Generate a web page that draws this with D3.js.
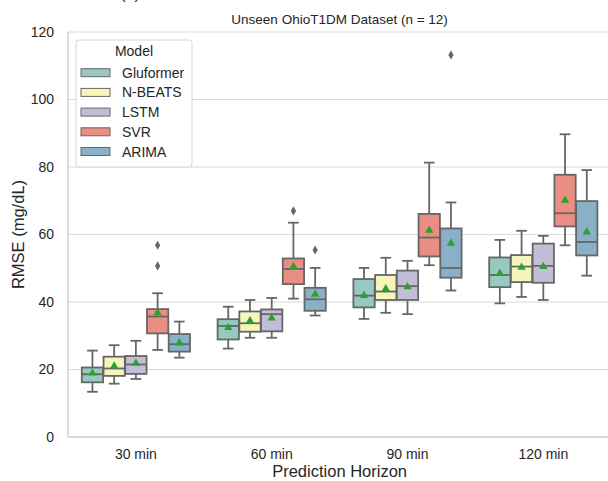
<!DOCTYPE html>
<html>
<head>
<meta charset="utf-8">
<script src="https://cdn.jsdelivr.net/npm/d3@7"></script>
<style>
    body { margin: 0; background: #ffffff; font-family: "Liberation Sans", Arial, Helvetica, sans-serif; }
    svg { display: block; }
    text { fill: #262626; }
</style>
</head>
<body>
<svg id="chart"></svg>
<script>
    const horizons = ["30 min", "60 min", "90 min", "120 min"];
    const models = ["Gluformer", "N-BEATS", "LSTM", "SVR", "ARIMA"];
    const baseColors = ["#8dd3c7", "#ffffb3", "#bebada", "#fb8072", "#80b1d3"];
    const yTicks = [0, 20, 40, 60, 80, 100, 120];

    // one row per model (same order as models), one column per horizon
    const whiskerLow = [
        [13.4, 26.2, 35.0, 39.6],
        [15.8, 29.4, 36.8, 41.5],
        [17.2, 29.4, 36.4, 40.6],
        [25.8, 41.0, 50.9, 56.8],
        [23.5, 36.0, 43.4, 47.8]
    ];
    const q1 = [
        [16.2, 28.9, 38.4, 44.4],
        [18.1, 31.2, 40.6, 45.9],
        [18.7, 31.3, 40.6, 45.7],
        [30.7, 45.3, 53.5, 62.4],
        [25.3, 37.4, 47.2, 53.8]
    ];
    const medians = [
        [18.6, 32.9, 41.9, 48.0],
        [20.3, 33.7, 43.1, 50.5],
        [21.5, 36.4, 44.7, 50.7],
        [35.7, 49.8, 59.1, 66.3],
        [27.5, 40.8, 50.1, 57.8]
    ];
    const q3 = [
        [20.6, 34.9, 46.8, 53.2],
        [23.8, 37.2, 48.0, 53.9],
        [24.0, 37.8, 49.3, 57.3],
        [37.9, 52.9, 66.1, 77.7],
        [30.5, 44.2, 61.8, 69.9]
    ];
    const whiskerHigh = [
        [25.6, 38.6, 50.1, 58.4],
        [27.2, 40.6, 53.1, 61.1],
        [28.5, 41.2, 52.2, 59.6],
        [42.6, 63.5, 81.3, 89.7],
        [34.2, 50.1, 69.5, 79.1]
    ];
    const means = [
        [18.9, 32.4, 41.9, 48.5],
        [21.0, 34.4, 43.9, 50.3],
        [21.8, 35.2, 44.5, 50.5],
        [36.8, 50.5, 61.2, 70.1],
        [27.8, 42.3, 57.4, 60.7]
    ];
    // [horizon, model, value]
    const outliers = [
        ["30 min", "SVR", 50.7],
        ["30 min", "SVR", 56.8],
        ["60 min", "SVR", 67.0],
        ["60 min", "ARIMA", 55.4],
        ["90 min", "ARIMA", 113.2]
    ];

    function config() {
        const width = 608, height = 481;
        const margin = { top: 32, left: 68, bottom: 44 };
        const plotRight = 68 + 4 * 135.8;   // axes runs a bit past the picture edge
        const svg = d3.select("#chart").attr("width", width).attr("height", height);
        return { width, height, margin, plotRight, svg };
    }

    function makeScales(cfg) {
        const x = d3.scaleBand().domain(horizons).range([cfg.margin.left, cfg.plotRight]).padding(0);
        const bw = x.bandwidth();
        const xInner = d3.scaleBand().domain(models).range([0.1 * bw, 0.9 * bw]).padding(0);
        const y = d3.scaleLinear().domain([0, 120]).range([cfg.height - cfg.margin.bottom, cfg.margin.top]);
        // seaborn boxplot desaturates the palette to 0.75
        const color = d3.scaleOrdinal().domain(models).range(baseColors.map(c => {
            const h = d3.hsl(c); h.s *= 0.75; return h.formatHex();
        }));
        return { x, xInner, y, color };
    }

    function drawGrid(cfg, sc) {
        const { svg, margin, plotRight } = cfg;
        svg.append("g").selectAll("line").data(yTicks).enter().append("line")
            .attr("x1", margin.left).attr("x2", plotRight)
            .attr("y1", d => sc.y(d)).attr("y2", d => sc.y(d))
            .attr("stroke", "#dadada").attr("stroke-width", 1.2);
        // left and bottom spines
        const y0 = sc.y(0), yTop = sc.y(120);
        svg.append("line").attr("x1", margin.left).attr("x2", margin.left).attr("y1", yTop).attr("y2", y0)
            .attr("stroke", "#d2d2d2").attr("stroke-width", 1.6);
        svg.append("line").attr("x1", margin.left).attr("x2", plotRight).attr("y1", y0).attr("y2", y0)
            .attr("stroke", "#d2d2d2").attr("stroke-width", 1.6);
    }

    function drawAxes(cfg, sc) {
        const { svg, margin, plotRight } = cfg;
        const yAxis = d3.axisLeft(sc.y).tickValues(yTicks).tickSize(0).tickPadding(14);
        const gy = svg.append("g").attr("transform", `translate(${margin.left},0)`).call(yAxis);
        gy.select(".domain").remove();
        gy.selectAll("text").attr("font-size", 14).attr("font-family", "Liberation Sans, Arial, sans-serif").attr("fill", "#262626");

        const xAxis = d3.axisBottom(sc.x).tickSize(0).tickPadding(12);
        const gx = svg.append("g").attr("transform", `translate(0,${sc.y(0)})`).call(xAxis);
        gx.select(".domain").remove();
        gx.selectAll("text").attr("font-size", 14).attr("font-family", "Liberation Sans, Arial, sans-serif").attr("fill", "#262626");

        const cx = (margin.left + plotRight) / 2;
        svg.append("text").attr("x", cx).attr("y", 477).attr("text-anchor", "middle")
            .attr("font-size", 16.5).text("Prediction Horizon");
        svg.append("text").attr("transform", `translate(24,${(sc.y(0) + sc.y(120)) / 2}) rotate(-90)`)
            .attr("text-anchor", "middle").attr("font-size", 16.5).text("RMSE (mg/dL)");
        svg.append("text").attr("x", cx).attr("y", 24).attr("text-anchor", "middle")
            .attr("font-size", 13.5).text("Unseen OhioT1DM Dataset (n = 12)");
        // panel label, mostly cut off at the top as in the source figure
        svg.append("text").attr("x", 130).attr("y", -1).attr("text-anchor", "middle")
            .attr("font-size", 16).text("(b)");
    }

    function drawBoxes(cfg, sc) {
        const { svg } = cfg;
        const gray = "#666666";
        const boxW = sc.xInner.bandwidth() * 0.98;
        const rows = [];
        models.forEach((m, mi) => {
            horizons.forEach((h, hi) => {
                rows.push({
                    model: m, horizon: h,
                    lo: whiskerLow[mi][hi], q1: q1[mi][hi], med: medians[mi][hi],
                    q3: q3[mi][hi], hi: whiskerHigh[mi][hi], mean: means[mi][hi]
                });
            });
        });
        const cxOf = d => sc.x(d.horizon) + sc.xInner(d.model) + sc.xInner.bandwidth() / 2;

        const g = svg.append("g").selectAll("g").data(rows).enter().append("g");
        g.append("line").attr("x1", cxOf).attr("x2", cxOf)
            .attr("y1", d => sc.y(d.hi)).attr("y2", d => sc.y(d.q3))
            .attr("stroke", gray).attr("stroke-width", 1.8);
        g.append("line").attr("x1", cxOf).attr("x2", cxOf)
            .attr("y1", d => sc.y(d.q1)).attr("y2", d => sc.y(d.lo))
            .attr("stroke", gray).attr("stroke-width", 1.8);
        g.append("line").attr("x1", d => cxOf(d) - boxW / 4).attr("x2", d => cxOf(d) + boxW / 4)
            .attr("y1", d => sc.y(d.hi)).attr("y2", d => sc.y(d.hi))
            .attr("stroke", gray).attr("stroke-width", 1.8);
        g.append("line").attr("x1", d => cxOf(d) - boxW / 4).attr("x2", d => cxOf(d) + boxW / 4)
            .attr("y1", d => sc.y(d.lo)).attr("y2", d => sc.y(d.lo))
            .attr("stroke", gray).attr("stroke-width", 1.8);
        g.append("rect").attr("x", d => cxOf(d) - boxW / 2).attr("width", boxW)
            .attr("y", d => sc.y(d.q3)).attr("height", d => sc.y(d.q1) - sc.y(d.q3))
            .attr("fill", d => sc.color(d.model)).attr("stroke", gray).attr("stroke-width", 1.8);
        g.append("line").attr("x1", d => cxOf(d) - boxW / 2).attr("x2", d => cxOf(d) + boxW / 2)
            .attr("y1", d => sc.y(d.med)).attr("y2", d => sc.y(d.med))
            .attr("stroke", gray).attr("stroke-width", 1.8);
        g.append("path").attr("d", d3.symbol(d3.symbolTriangle, 30))
            .attr("transform", d => `translate(${cxOf(d)},${sc.y(d.mean)})`)
            .attr("fill", "#2ca02c");

        svg.append("g").selectAll("path").data(outliers).enter().append("path")
            .attr("d", d3.symbol(d3.symbolDiamond, 24))
            .attr("transform", d => `translate(${sc.x(d[0]) + sc.xInner(d[1]) + sc.xInner.bandwidth() / 2},${sc.y(d[2])})`)
            .attr("fill", gray);
    }

    function drawLegend(cfg, sc) {
        const { svg } = cfg;
        const lg = svg.append("g");
        lg.append("rect").attr("x", 76).attr("y", 40).attr("width", 116).attr("height", 127)
            .attr("rx", 3).attr("fill", "#ffffff").attr("fill-opacity", 0.9)
            .attr("stroke", "#d6d6d6").attr("stroke-width", 1);
        lg.append("text").attr("x", 134).attr("y", 56).attr("text-anchor", "middle")
            .attr("font-size", 14).text("Model");
        const item = lg.selectAll("g.item").data(models).enter().append("g")
            .attr("class", "item")
            .attr("transform", (d, i) => `translate(0,${72.7 + i * 19.7})`);
        item.append("rect").attr("x", 81).attr("y", -4).attr("width", 29).attr("height", 8)
            .attr("fill", d => sc.color(d)).attr("stroke", "#666666").attr("stroke-width", 1);
        item.append("text").attr("x", 122).attr("y", 0).attr("dy", "0.36em")
            .attr("font-size", 14).text(d => d);
    }

    const cfg = config();
    const sc = makeScales(cfg);
    drawGrid(cfg, sc);
    drawAxes(cfg, sc);
    drawBoxes(cfg, sc);
    drawLegend(cfg, sc);
</script>
</body>
</html>
